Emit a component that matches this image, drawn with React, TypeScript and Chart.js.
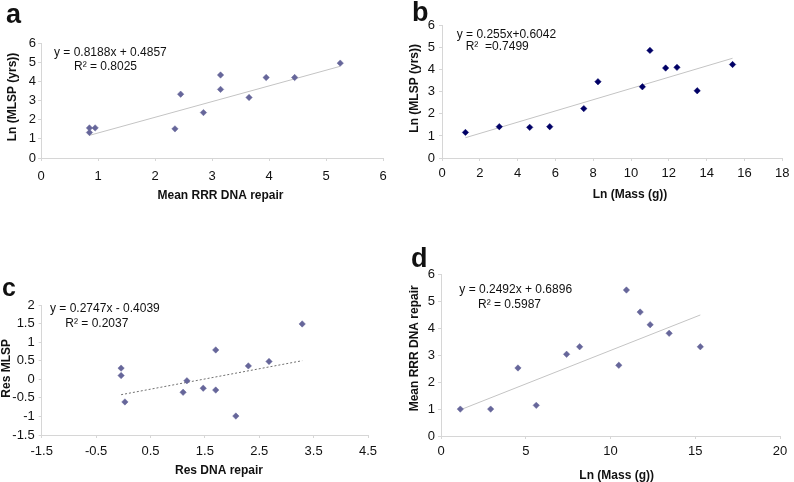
import React, { useEffect, useRef } from "react";
import { Chart, registerables } from "chart.js";
Chart.register(...registerables);

const FONT = "'Liberation Sans', Arial, Helvetica, sans-serif";

// ---- Panel a: Mean RRR DNA repair vs Ln(MLSP)
const repairA = [0.85, 0.85, 0.95, 2.35, 2.45, 2.85, 3.15, 3.15, 3.65, 3.95, 4.45, 5.25];
const mlspA = [1.57, 1.33, 1.57, 1.52, 3.33, 2.37, 4.33, 3.58, 3.16, 4.2, 4.2, 4.95];
const xTicksA = [0, 1, 2, 3, 4, 5, 6];
const yTicksA = [0, 1, 2, 3, 4, 5, 6];
const fitA = [0.8188, 0.4857];

// ---- Panel b: Ln(Mass) vs Ln(MLSP)
const massB = [1.24, 3.03, 4.64, 5.7, 7.5, 8.25, 10.6, 11.0, 11.83, 12.43, 13.5, 15.37];
const mlspB = [1.16, 1.42, 1.39, 1.42, 2.24, 3.46, 3.23, 4.88, 4.08, 4.11, 3.05, 4.24];
const xTicksB = [0, 2, 4, 6, 8, 10, 12, 14, 16, 18];
const yTicksB = [0, 1, 2, 3, 4, 5, 6];
const fitB = [0.255, 0.6042];

// ---- Panel c: residuals
const resRepairC = [-0.04, -0.04, 0.03, 1.1, 1.17, 1.47, 1.7, 1.7, 2.07, 2.3, 2.68, 3.29];
const resMlspC = [0.3, 0.1, -0.61, -0.35, -0.04, -0.24, 0.79, -0.29, -0.99, 0.36, 0.48, 1.49];
const xTicksC = [-1.5, -0.5, 0.5, 1.5, 2.5, 3.5, 4.5];
const yTicksC = [-1.5, -1, -0.5, 0, 0.5, 1, 1.5, 2];
const fitC = [0.2747, -0.4039];

// ---- Panel d: Ln(Mass) vs Mean RRR DNA repair
const massD = [1.14, 2.93, 4.54, 5.62, 7.41, 8.18, 10.49, 10.94, 11.75, 12.34, 13.46, 15.3];
const repairD = [1.0, 1.0, 2.53, 1.14, 3.04, 3.32, 2.63, 5.43, 4.61, 4.14, 3.82, 3.32];
const xTicksD = [0, 5, 10, 15, 20];
const yTicksD = [0, 1, 2, 3, 4, 5, 6];
const fitD = [0.2492, 0.6896];

type Txt = { t: string; x: number; y: number; size: number; bold?: boolean; rot?: boolean; center?: boolean };
type PanelDef = {
  left: number; top: number; w: number; h: number;
  area: { l: number; r: number; t: number; b: number };
  xs: number[]; ys: number[]; xTicks: number[]; yTicks: number[]; fit: number[];
  color: string; lineColor: string; dash: number[];
  xPad: number; yPad: number; texts: Txt[];
};

const AXIS = "#d6d6d6";
const XH = 30;

const panels: PanelDef[] = [
  {
    left: 0, top: 0, w: 397, h: 241,
    area: { l: 41, r: 383, t: 43, b: 158 },
    xs: repairA, ys: mlspA, xTicks: xTicksA, yTicks: yTicksA, fit: fitA,
    color: "#66669a", lineColor: "#c4c4c4", dash: [], xPad: 8, yPad: 2,
    texts: [
      { t: "a", x: 6, y: 23, size: 27, bold: true },
      { t: "y = 0.8188x + 0.4857", x: 54, y: 55.5, size: 12 },
      { t: "R\u00b2 = 0.8025", x: 74, y: 69.5, size: 12 },
      { t: "Mean RRR DNA repair", x: 220.5, y: 199, size: 12, bold: true, center: true },
      { t: "Ln (MLSP (yrs))", x: 12.5, y: 97, size: 12, bold: true, rot: true },
    ],
  },
  {
    left: 397, top: 0, w: 397, h: 241,
    area: { l: 45, r: 387, t: 25.7, b: 158 },
    xs: massB, ys: mlspB, xTicks: xTicksB, yTicks: yTicksB, fit: fitB,
    color: "#000066", lineColor: "#c4c4c4", dash: [], xPad: 4.5, yPad: 4,
    texts: [
      { t: "b", x: 15, y: 21, size: 27, bold: true },
      { t: "y = 0.255x+0.6042", x: 59.7, y: 37.5, size: 12 },
      { t: "R\u00b2  =0.7499", x: 68.7, y: 50, size: 12 },
      { t: "Ln (Mass (g))", x: 233, y: 198, size: 12, bold: true, center: true },
      { t: "Ln (MLSP (yrs))", x: 18, y: 88.3, size: 12, bold: true, rot: true },
    ],
  },
  {
    left: 0, top: 241, w: 397, h: 241,
    area: { l: 41.7, r: 368, t: 64, b: 194 },
    xs: resRepairC, ys: resMlspC, xTicks: xTicksC, yTicks: yTicksC, fit: fitC,
    color: "#66669a", lineColor: "#707070", dash: [2, 2], xPad: 5.5, yPad: 4,
    texts: [
      { t: "c", x: 2, y: 54.5, size: 25, bold: true },
      { t: "y = 0.2747x - 0.4039", x: 50, y: 71, size: 12 },
      { t: "R\u00b2 = 0.2037", x: 65.3, y: 86, size: 12 },
      { t: "Res DNA repair", x: 219, y: 232.6, size: 12, bold: true, center: true },
      { t: "Res MLSP", x: 6.7, y: 127.3, size: 12, bold: true, rot: true },
    ],
  },
  {
    left: 397, top: 241, w: 397, h: 241,
    area: { l: 44, r: 383, t: 33.7, b: 195 },
    xs: massD, ys: repairD, xTicks: xTicksD, yTicks: yTicksD, fit: fitD,
    color: "#66669a", lineColor: "#c4c4c4", dash: [], xPad: 5, yPad: 3,
    texts: [
      { t: "d", x: 14, y: 26, size: 27, bold: true },
      { t: "y = 0.2492x + 0.6896", x: 62.3, y: 51.6, size: 12 },
      { t: "R\u00b2 = 0.5987", x: 81, y: 67.3, size: 12 },
      { t: "Ln (Mass (g))", x: 219.7, y: 237.5, size: 12, bold: true, center: true },
      { t: "Mean RRR DNA repair", x: 18, y: 107.3, size: 12, bold: true, rot: true },
    ],
  },
];

function drawTexts(ctx: CanvasRenderingContext2D, texts: Txt[]) {
  ctx.save();
  ctx.fillStyle = "#111";
  for (const t of texts) {
    ctx.font = `${t.bold ? "bold " : ""}${t.size}px ${FONT}`;
    if (t.rot) {
      ctx.save();
      ctx.translate(t.x, t.y);
      ctx.rotate(-Math.PI / 2);
      ctx.textAlign = "center";
      ctx.textBaseline = "middle";
      ctx.fillText(t.t, 0, 0);
      ctx.restore();
    } else {
      ctx.textAlign = t.center ? "center" : "left";
      ctx.textBaseline = "alphabetic";
      ctx.fillText(t.t, t.x, t.y);
    }
  }
  ctx.restore();
}

function Panel({ p }: { p: PanelDef }) {
  const ref = useRef<HTMLCanvasElement | null>(null);
  useEffect(() => {
    if (!ref.current) return;
    const pts = p.xs.map((x, i) => ({ x, y: p.ys[i] }));
    const xmin = Math.min(...p.xs);
    const xmax = Math.max(...p.xs);
    const trend = [
      { x: xmin, y: p.fit[0] * xmin + p.fit[1] },
      { x: xmax, y: p.fit[0] * xmax + p.fit[1] },
    ];
    const tickFont = { family: FONT, size: 13 };
    const chart = new Chart(ref.current, {
      type: "scatter",
      data: {
        datasets: [
          {
            data: trend,
            showLine: true,
            borderColor: p.lineColor,
            borderWidth: 1,
            borderDash: p.dash,
            pointRadius: 0,
            order: 2,
          } as any,
          {
            data: pts,
            pointStyle: "rectRot",
            pointRadius: 3.2,
            pointBorderWidth: 0.5,
            backgroundColor: p.color,
            borderColor: p.color,
            showLine: false,
            order: 1,
          } as any,
        ],
      },
      options: {
        animation: false,
        responsive: false,
        maintainAspectRatio: false,
        devicePixelRatio: 1,
        events: [],
        layout: {
          padding: {
            left: 0,
            top: p.area.t,
            right: p.w - p.area.r,
            bottom: p.h - p.area.b - XH,
          },
        },
        plugins: { legend: { display: false }, tooltip: { enabled: false } },
        scales: {
          x: {
            type: "linear",
            position: "bottom",
            min: p.xTicks[0],
            max: p.xTicks[p.xTicks.length - 1],
            afterBuildTicks: (s: any) => {
              s.ticks = p.xTicks.map((v) => ({ value: v }));
            },
            afterFit: (s: any) => {
              s.height = XH;
            },
            grid: { drawOnChartArea: false, drawTicks: true, tickLength: 3, color: AXIS },
            border: { display: true, color: AXIS },
            ticks: {
              font: tickFont,
              color: "#111",
              padding: p.xPad,
              maxRotation: 0,
              autoSkip: false,
              callback: (v: any) => String(v),
            },
          },
          y: {
            type: "linear",
            position: "left",
            min: p.yTicks[0],
            max: p.yTicks[p.yTicks.length - 1],
            afterBuildTicks: (s: any) => {
              s.ticks = p.yTicks.map((v) => ({ value: v }));
            },
            afterFit: (s: any) => {
              s.width = p.area.l;
            },
            grid: { drawOnChartArea: false, drawTicks: true, tickLength: 3, color: AXIS },
            border: { display: true, color: AXIS },
            ticks: {
              font: tickFont,
              color: "#111",
              padding: p.yPad,
              autoSkip: false,
              callback: (v: any) => String(v),
            },
          },
        },
      } as any,
      plugins: [
        {
          id: "overlayText",
          afterDraw: (c: any) => drawTexts(c.ctx, p.texts),
        },
      ],
    });
    return () => chart.destroy();
  }, [p]);
  return (
    <canvas
      ref={ref}
      width={p.w}
      height={p.h}
      style={{ position: "absolute", left: p.left, top: p.top, width: p.w, height: p.h }}
    />
  );
}

export default function App() {
  return (
    <div
      style={{
        position: "absolute",
        left: 0,
        top: 0,
        width: 794,
        height: 482,
        background: "#ffffff",
        overflow: "hidden",
      }}
    >
      {panels.map((p, i) => (
        <Panel key={i} p={p} />
      ))}
    </div>
  );
}
